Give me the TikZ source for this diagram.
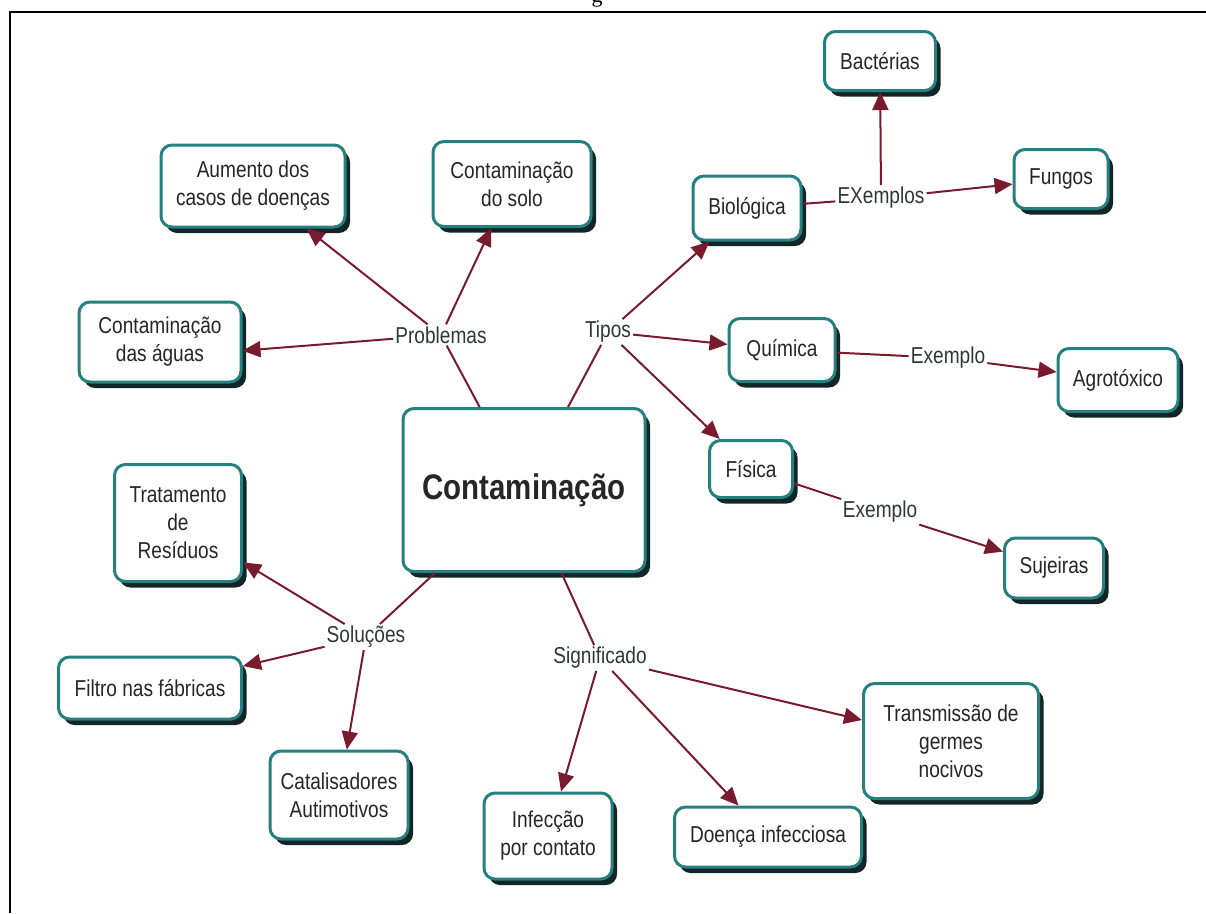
\documentclass[tikz,border=0pt]{standalone}
\usepackage{fontspec}
\setmainfont{Liberation Sans}
\newfontfamily\nf[FakeStretch=0.83]{Liberation Sans}
\newfontfamily\capfont{Liberation Serif}
\usetikzlibrary{arrows.meta,shadows}
\definecolor{tealb}{HTML}{25807F}
\definecolor{shad}{HTML}{122627}
\definecolor{arr}{HTML}{7A1B2D}
\definecolor{txt}{HTML}{262626}
\definecolor{lbl}{HTML}{2C3837}
\begin{document}
\begin{tikzpicture}[x=1pt,y=-1pt,
  concept/.style={draw=tealb, line width=3pt, rounded corners=11pt, fill=white, align=center,
    text=txt, font=\nf\fontsize{23}{28}\selectfont, inner sep=0pt,
    drop shadow={shadow xshift=5pt,shadow yshift=-6pt,fill=shad,opacity=1}},
  lnk/.style={text=lbl, font=\nf\fontsize{23}{28}\selectfont, inner sep=2pt},
  con/.style={draw=arr, line width=2pt},
  arw/.style={con, -{Triangle[length=18pt,width=16pt]}},
]
\useasboundingbox (0,0) rectangle (1206,913);
\begin{scope}
\clip (0,0) rectangle (1206,913);
\node[font=\capfont\fontsize{22}{22}\selectfont, anchor=base, inner sep=0pt] (cap) at (597,2) {g};
\end{scope}
\draw[line width=2.5pt] (10,913) -- (10,12) -- (1206,12);

% concepts
\node[concept, minimum width=242pt, minimum height=163pt, font=\nf\bfseries\fontsize{35.5}{40}\selectfont] (cont) at (524,490) {Contaminação};
\node[concept, minimum width=111pt, minimum height=59pt] (bact) at (880,61) {Bactérias};
\node[concept, minimum width=94pt, minimum height=59pt] (fung) at (1061,179) {Fungos};
\node[concept, minimum width=108pt, minimum height=64pt] (bio) at (747,208) {Biológica};
\node[concept, minimum width=106pt, minimum height=63pt] (quim) at (782,350) {Química};
\node[concept, minimum width=120pt, minimum height=63pt] (agro) at (1118,380) {Agrotóxico};
\node[concept, minimum width=83pt, minimum height=57pt] (fis) at (751,469) {Física};
\node[concept, minimum width=99pt, minimum height=60pt] (suj) at (1054,568) {Sujeiras};
\node[concept, minimum width=184pt, minimum height=82pt] (aum) at (253,186) {Aumento dos\\casos de doenças};
\node[concept, minimum width=158pt, minimum height=85pt] (solo) at (512,184) {Contaminação\\do solo};
\node[concept, minimum width=162pt, minimum height=80pt] (agua) at (160,342) {Contaminação\\das águas};
\node[concept, minimum width=127pt, minimum height=117pt] (trat) at (178,523) {Tratamento\\de\\Resíduos};
\node[concept, minimum width=183pt, minimum height=62pt] (filt) at (150,688) {Filtro nas fábricas};
\node[concept, minimum width=138pt, minimum height=88pt] (cata) at (339,795) {Catalisadores\\Autimotivos};
\node[concept, minimum width=128pt, minimum height=86pt] (infe) at (548,836) {Infecção\\por contato};
\node[concept, minimum width=187pt, minimum height=60pt] (doen) at (768,837) {Doença infecciosa};
\node[concept, minimum width=175pt, minimum height=115pt] (tran) at (951,741) {Transmissão de\\germes\\nocivos};

% linking phrases
\node[lnk] (prob) at (441,335) {Problemas};
\node[lnk] (tipo) at (608,332) {Tipos};
\node[lnk] (exs) at (881,198) {EXemplos};
\node[lnk] (ex1) at (948,358) {Exemplo};
\node[lnk] (ex2) at (880,512) {Exemplo};
\node[lnk] (sol) at (366,637) {Soluções};
\node[lnk] (sig) at (600,658) {Significado};

% connectors
\draw[con] (cont) -- (prob);
\draw[arw] (prob) -- (aum);
\draw[arw] (prob) -- (solo);
\draw[arw] (prob) -- (agua.-6);
\draw[con] (cont) -- (tipo);
\draw[arw] (tipo) -- (bio);
\draw[arw] (tipo) -- (quim);
\draw[arw] (tipo) -- (fis);
\draw[con] (bio) -- (exs);
\draw[arw] (exs) -- (bact);
\draw[arw] (exs) -- (fung);
\draw[con] (quim) -- (ex1);
\draw[arw] (ex1) -- (agro);
\draw[con] (fis) -- (ex2);
\draw[arw] (ex2) -- (suj);
\draw[con] (cont) -- (sol);
\draw[arw] (sol) -- (trat);
\draw[arw] (sol) -- (filt);
\draw[arw] (sol) -- (cata);
\draw[con] (cont) -- (sig);
\draw[arw] (sig) -- (infe);
\draw[arw] (sig) -- (doen);
\draw[arw] (sig) -- (tran);
\end{tikzpicture}
\end{document}
